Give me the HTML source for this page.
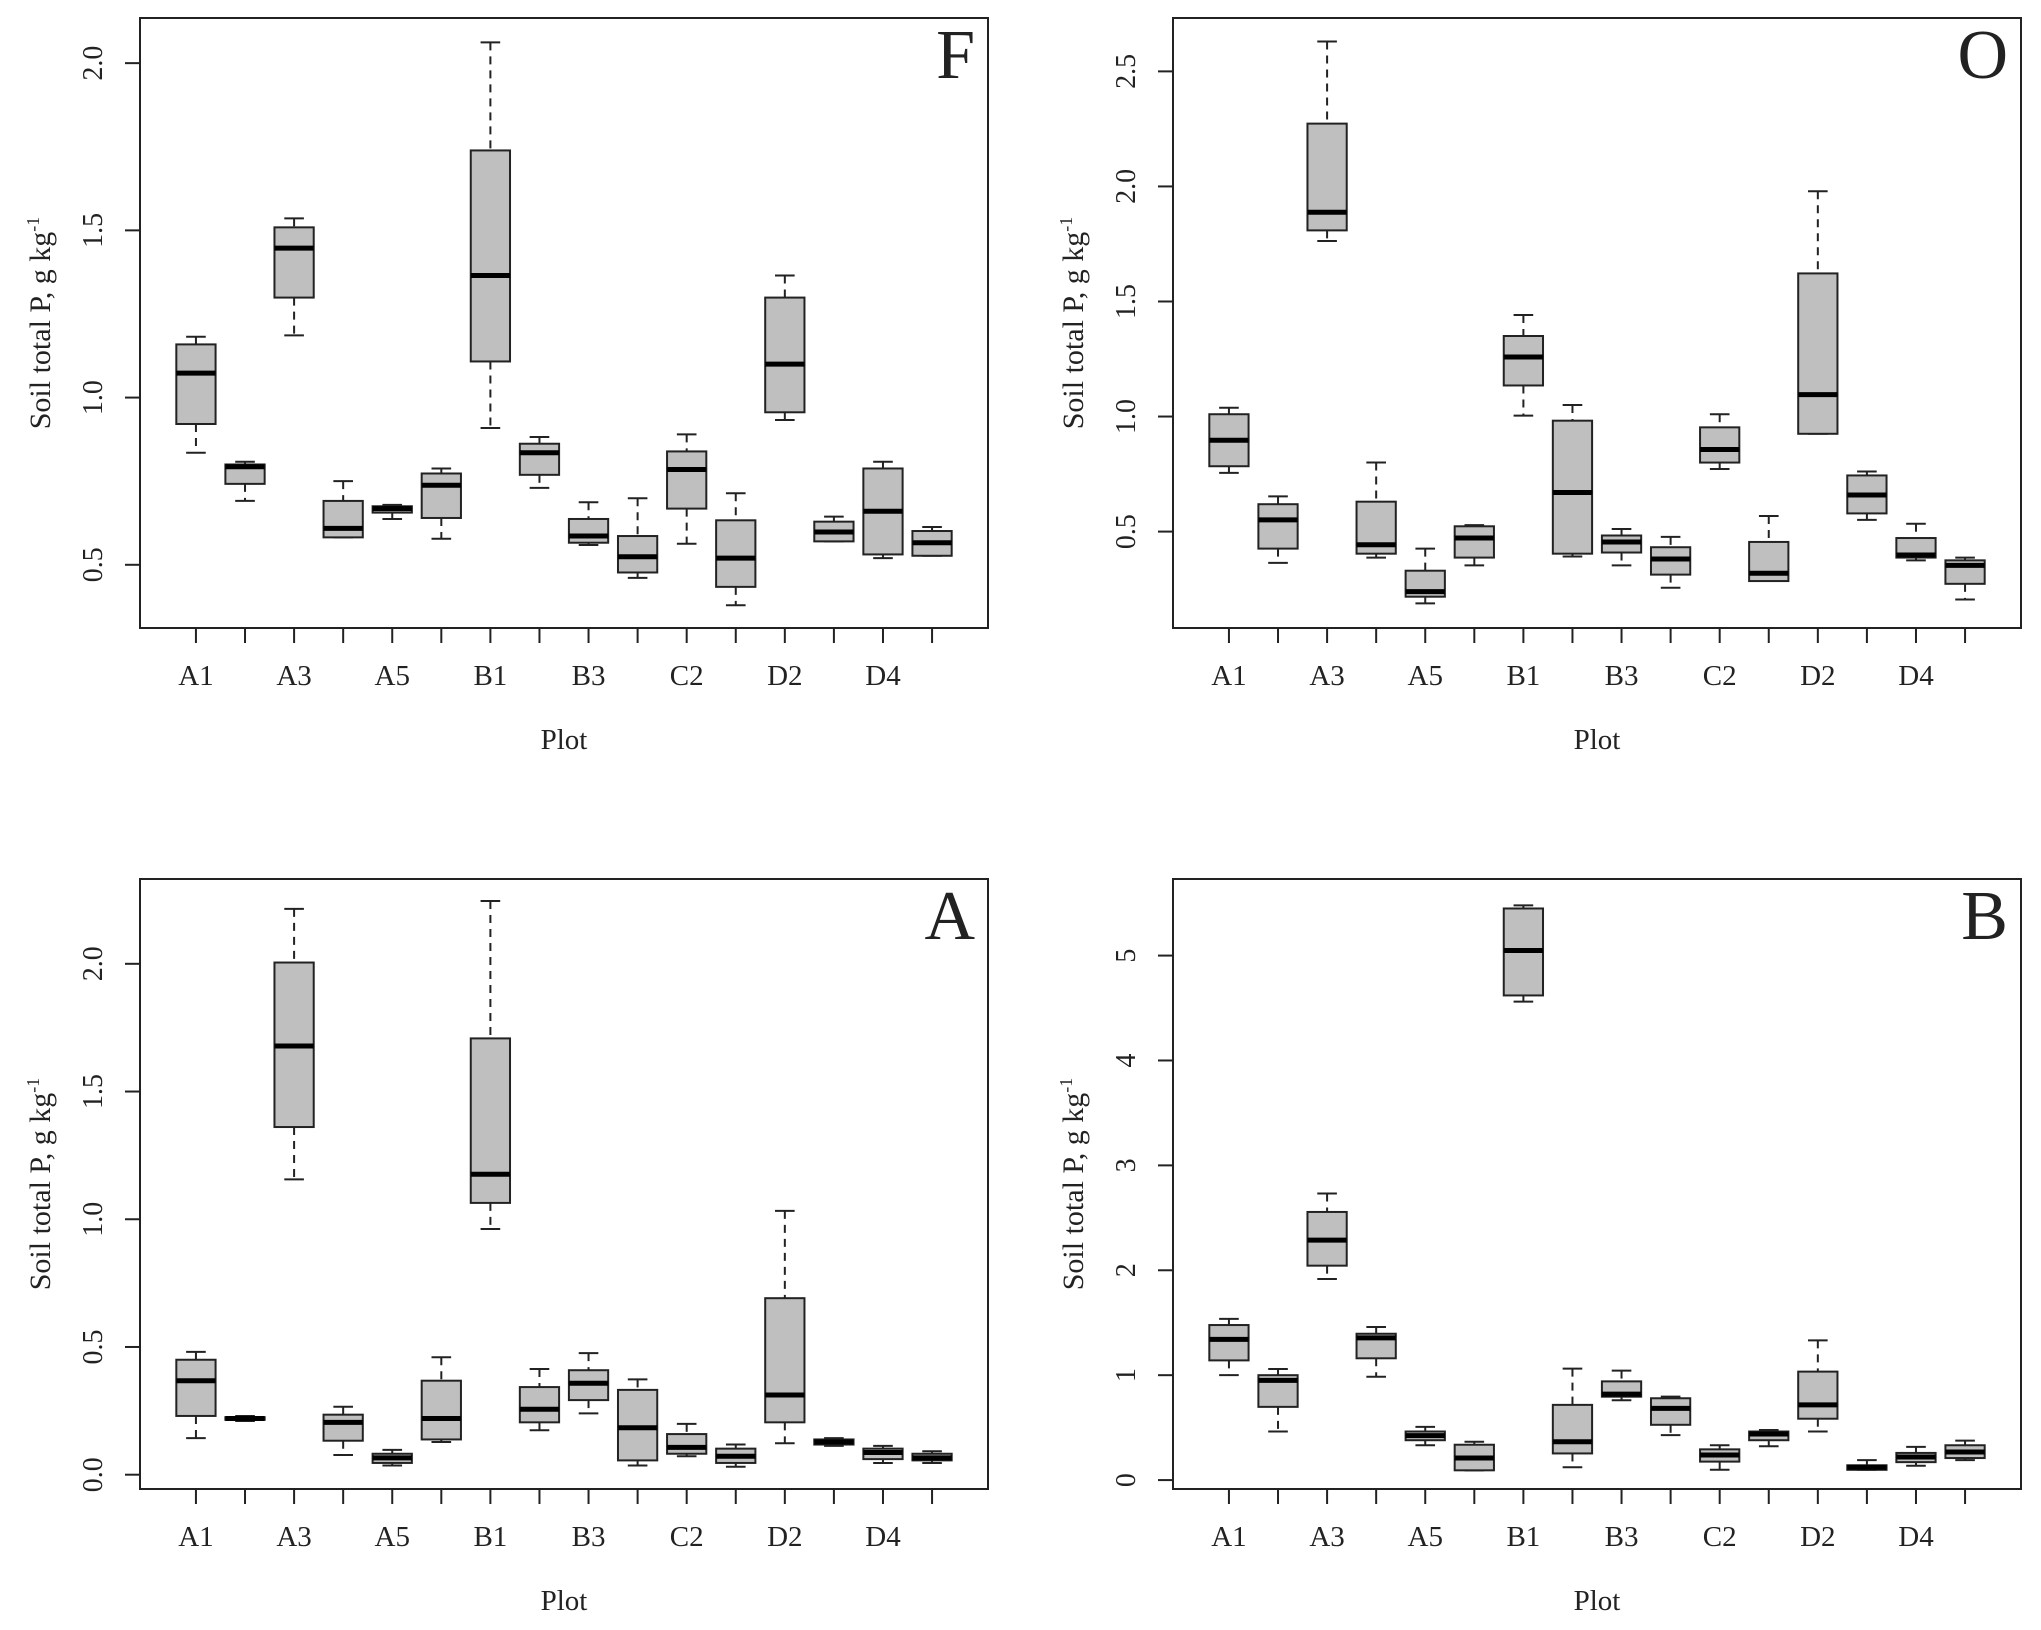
<!DOCTYPE html>
<html><head><meta charset="utf-8"><style>
html,body{margin:0;padding:0;background:#fff;}
svg{display:block;}
text{font-family:"Liberation Serif",serif;fill:#222;}
</style></head><body>
<svg id="chart" width="2041" height="1630" viewBox="0 0 2041 1630" xmlns="http://www.w3.org/2000/svg"></svg>
<script>
const plots = ["A1","A2","A3","A4","A5","A6","B1","B2","B3","C1","C2","C3","D2","D3","D4","D5"];
const panelNames = ["F","O","A","B"];
// each row: [lower whisker, q1, median, q3, upper whisker]
const statsF = [[0.835,0.921,1.073,1.159,1.182],[0.691,0.742,0.793,0.800,0.808],[1.186,1.299,1.447,1.509,1.536],[0.582,0.582,0.609,0.691,0.750],[0.637,0.656,0.668,0.675,0.679],[0.578,0.640,0.738,0.773,0.788],[0.909,1.108,1.365,1.739,2.062],[0.730,0.769,0.835,0.862,0.882],[0.559,0.566,0.586,0.637,0.687],[0.461,0.477,0.524,0.586,0.699],[0.563,0.668,0.785,0.839,0.890],[0.379,0.434,0.520,0.633,0.714],[0.933,0.956,1.100,1.299,1.365],[0.570,0.570,0.598,0.629,0.644],[0.520,0.531,0.660,0.788,0.808],[0.527,0.527,0.566,0.601,0.613]];
const statsO = [[0.755,0.784,0.897,1.010,1.038],[0.364,0.426,0.551,0.619,0.653],[1.763,1.809,1.888,2.273,2.630],[0.387,0.404,0.443,0.630,0.800],[0.188,0.217,0.239,0.330,0.426],[0.353,0.387,0.472,0.523,0.528],[1.004,1.135,1.259,1.350,1.441],[0.392,0.404,0.670,0.982,1.050],[0.353,0.409,0.455,0.483,0.511],[0.256,0.313,0.381,0.432,0.477],[0.772,0.800,0.857,0.953,1.010],[0.285,0.285,0.319,0.455,0.568],[0.925,0.925,1.095,1.622,1.979],[0.551,0.579,0.659,0.744,0.761],[0.375,0.387,0.398,0.472,0.534],[0.205,0.273,0.353,0.375,0.387]];
const statsA = [[0.143,0.230,0.368,0.450,0.481],[0.210,0.215,0.220,0.225,0.230],[1.156,1.361,1.678,2.005,2.215],[0.077,0.133,0.205,0.235,0.266],[0.036,0.046,0.066,0.082,0.097],[0.128,0.138,0.220,0.368,0.460],[0.962,1.064,1.176,1.708,2.246],[0.174,0.205,0.256,0.343,0.414],[0.240,0.292,0.358,0.409,0.476],[0.036,0.056,0.184,0.332,0.373],[0.072,0.082,0.107,0.159,0.199],[0.031,0.046,0.072,0.102,0.118],[0.123,0.205,0.312,0.691,1.033],[0.113,0.118,0.128,0.138,0.143],[0.046,0.061,0.087,0.102,0.113],[0.046,0.056,0.066,0.082,0.092]];
const statsB = [[1.000,1.141,1.341,1.478,1.537],[0.463,0.698,0.951,1.000,1.059],[1.917,2.044,2.288,2.556,2.732],[0.985,1.161,1.356,1.395,1.459],[0.332,0.380,0.424,0.463,0.507],[0.093,0.093,0.210,0.337,0.366],[4.561,4.620,5.049,5.449,5.478],[0.122,0.254,0.366,0.717,1.063],[0.761,0.795,0.820,0.941,1.044],[0.429,0.527,0.683,0.780,0.795],[0.098,0.176,0.239,0.293,0.332],[0.322,0.380,0.439,0.463,0.478],[0.463,0.585,0.717,1.034,1.332],[0.098,0.098,0.122,0.141,0.190],[0.137,0.171,0.220,0.259,0.317],[0.190,0.210,0.268,0.332,0.376]];
const ticksF = ["0.5","1.0","1.5","2.0"];
const ticksO = ["0.5","1.0","1.5","2.0","2.5"];
const ticksA = ["0.0","0.5","1.0","1.5","2.0"];
const ticksB = ["0","1","2","3","4","5"];
const ylimF = [0.311, 2.135];
const ylimO = [0.081, 2.732];
const ylimA = [-0.056, 2.332];
const ylimB = [-0.085, 5.73];

const NS = "http://www.w3.org/2000/svg";
const svg = document.getElementById("chart");
function mk(tag, attrs, parent){
  const e = document.createElementNS(NS, tag);
  for (const k in attrs) e.setAttribute(k, attrs[k]);
  (parent||svg).appendChild(e);
  return e;
}
const layouts = [
  {x0:140,y0:18},{x0:1173,y0:18},{x0:140,y0:879},{x0:1173,y0:879}
];
const W = 848, H = 610;
const allStats = [statsF, statsO, statsA, statsB];
const allTicks = [ticksF, ticksO, ticksA, ticksB];
const allYlim = [ylimF, ylimO, ylimA, ylimB];

panelNames.forEach((pn, pi) => {
  const L = layouts[pi];
  const g = mk("g", {});
  
  
  const ylim = allYlim[pi];
  const ys = v => L.y0 + H - (v - ylim[0]) / (ylim[1] - ylim[0]) * H;
  const xmin = -0.14, xmax = 17.14;
  const xs = i => L.x0 + (i - xmin) / (xmax - xmin) * W;
  const ppu = W / (xmax - xmin);

  allStats[pi].forEach((s, i) => {
    const cx = xs(i + 1);
    const bg = mk("g", {}, g);
    
    
    const hw = 0.4 * ppu, cw = 0.2 * ppu;
    mk("line", {x1:cx, x2:cx, y1:ys(s[4]), y2:ys(s[3]), stroke:"#222", "stroke-width":2, "stroke-dasharray":"8,6"}, bg);
    mk("line", {x1:cx, x2:cx, y1:ys(s[1]), y2:ys(s[0]), stroke:"#222", "stroke-width":2, "stroke-dasharray":"8,6"}, bg);
    mk("line", {x1:cx-cw, x2:cx+cw, y1:ys(s[4]), y2:ys(s[4]), stroke:"#222", "stroke-width":2}, bg);
    mk("line", {x1:cx-cw, x2:cx+cw, y1:ys(s[0]), y2:ys(s[0]), stroke:"#222", "stroke-width":2}, bg);
    mk("rect", {x:cx-hw, y:ys(s[3]), width:2*hw, height:Math.max(1, ys(s[1]) - ys(s[3])), fill:"#bfbfbf", stroke:"#222", "stroke-width":2}, bg);
    mk("line", {x1:cx-hw, x2:cx+hw, y1:ys(s[2]), y2:ys(s[2]), stroke:"#000", "stroke-width":5}, bg);
  });

  const fr = mk("rect", {x:L.x0, y:L.y0, width:W, height:H, fill:"none", stroke:"#222", "stroke-width":2}, g);
  
  

  allTicks[pi].forEach(t => {
    const y = ys(parseFloat(t));
    mk("line", {x1:L.x0-15, x2:L.x0, y1:y, y2:y, stroke:"#222", "stroke-width":2}, g);
    const tx = mk("text", {x:0, y:0, "font-size":28, "text-anchor":"middle", transform:`translate(${L.x0-38},${y}) rotate(-90)`}, g);
    
    
    tx.textContent = t;
  });

  plots.forEach((p, i) => {
    const x = xs(i + 1);
    mk("line", {x1:x, x2:x, y1:L.y0+H, y2:L.y0+H+15, stroke:"#222", "stroke-width":2}, g);
    if (i % 2 === 0) {
      const tx = mk("text", {x:x, y:L.y0+H+57, "font-size":29, "text-anchor":"middle"}, g);
      
      
      tx.textContent = p;
    }
  });

  const xt = mk("text", {x:L.x0+W/2, y:L.y0+H+121, "font-size":29, "text-anchor":"middle"}, g);
  
  
  xt.textContent = "Plot";
  const yt = mk("text", {x:0, y:0, "font-size":30, "text-anchor":"middle", transform:`translate(${L.x0-90},${L.y0+H/2}) rotate(-90)`}, g);
  
  
  yt.innerHTML = 'Soil total P, g kg<tspan dy="-11" font-size="18">-1</tspan>';

  const pl = mk("text", {x:L.x0+W-13, y:L.y0+60, "font-size":70, "text-anchor":"end"}, g);
  
  
  pl.textContent = pn;
});
</script>
</body></html>
